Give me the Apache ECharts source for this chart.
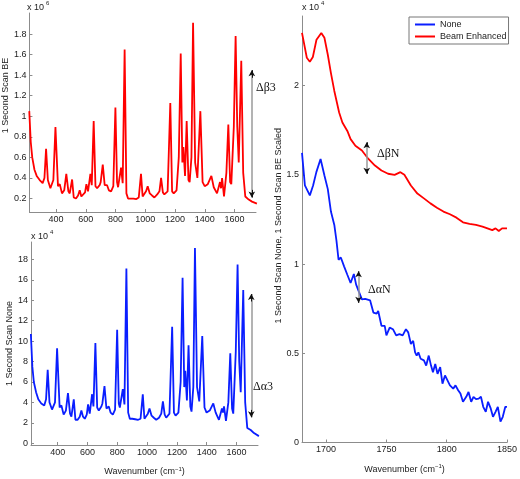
<!DOCTYPE html>
<html><head><meta charset="utf-8">
<script src="https://cdn.jsdelivr.net/npm/echarts@6/dist/echarts.min.js"></script>
<style>html,body{margin:0;padding:0;background:#fff}#c{width:520px;height:479px}</style>
</head><body><div id="c"></div>
<script>
// ---- Data ----
const wnSpectrum = [220,230,240,255,270,290,310,322,333,345,362,382,396,413,425,440,455,469,483,492,508,519,534,548,559,570,582,595,604,615,631,640,653,665,676,693,700,714,727,743,755,770,785,799,810,817,837,848,861,873,884,900,920,940,956,971,982,995,1005,1016,1030,1045,1061,1080,1095,1106,1118,1128,1150,1168,1180,1191,1210,1225,1238,1249,1256,1267,1278,1290,1298,1310,1321,1335,1350,1370,1385,1399,1420,1444,1460,1482,1502,1509,1516,1529,1545,1558,1570,1578,1595,1607,1618,1628,1645,1658,1672,1684,1695,1717,1730,1750];
const noneSpectrum = [10.7,7.5,6.0,5.0,4.3,3.9,3.7,4.3,7.2,4.0,3.3,4.0,9.3,3.5,3.7,2.8,3.2,4.9,2.9,2.6,4.3,2.3,2.3,2.6,3.2,2.6,2.4,2.8,3.8,2.9,4.8,3.6,9.8,3.5,3.2,3.6,3.9,5.6,3.4,3.6,3.0,2.8,3.3,11.1,3.9,3.5,5.3,3.8,17.1,3.0,2.4,2.4,2.35,2.3,2.4,4.8,2.4,2.5,2.9,3.4,2.7,2.5,2.3,2.5,2.9,4.1,2.8,2.5,2.9,11.4,3.0,2.7,3.0,6.0,16.2,5.5,7.1,4.2,9.6,3.6,3.1,5.5,19.1,5.5,4.1,10.5,3.5,3.0,3.2,3.9,3.0,2.3,3.4,3.0,3.6,2.2,4.0,8.8,3.4,2.9,9.0,17.5,8.0,5.0,15.0,4.0,1.5,1.6,1.3,1.0,0.9,0.7];
const beSpectrum = [1.05,0.75,0.6,0.48,0.42,0.38,0.35,0.4,0.685,0.38,0.3,0.38,0.895,0.32,0.34,0.25,0.28,0.44,0.27,0.25,0.385,0.21,0.2,0.23,0.28,0.22,0.21,0.26,0.34,0.27,0.44,0.33,0.955,0.32,0.3,0.33,0.36,0.53,0.33,0.33,0.28,0.27,0.32,1.085,0.36,0.31,0.5,0.35,1.65,0.25,0.2,0.2,0.2,0.195,0.21,0.44,0.22,0.23,0.27,0.32,0.25,0.23,0.21,0.24,0.27,0.4,0.26,0.24,0.27,1.13,0.27,0.25,0.28,0.6,1.61,0.55,0.7,0.42,0.955,0.38,0.36,0.6,1.91,0.55,0.4,1.05,0.36,0.32,0.34,0.42,0.31,0.25,0.36,0.3,0.4,0.22,0.45,0.92,0.36,0.34,0.9,1.78,0.9,0.55,1.54,0.45,0.22,0.21,0.19,0.17,0.16,0.15];

const wnZoomNone = [1680,1682.4,1686.5,1689.2,1691.9,1695.4,1698.6,1701.4,1704,1706.8,1708.6,1710.3,1712.2,1714.9,1717.6,1720.3,1723,1724.9,1727,1729.7,1732.4,1736.5,1739.2,1741.9,1743.2,1745.9,1748.6,1750,1752.7,1755.4,1758.1,1760.8,1763.5,1766.2,1768.1,1770.3,1772.2,1773.8,1775.1,1776.5,1778.4,1781.1,1783,1785.1,1787,1788.6,1790.5,1792.4,1794.6,1796.5,1798.6,1800,1802.7,1805.4,1807.3,1809.5,1811.4,1813.5,1816.2,1818.1,1820.3,1822.2,1824.3,1826.5,1828.4,1830.3,1832.4,1834.3,1836.5,1838.4,1840.5,1842.4,1844.6,1846.5,1848.6,1850];
const noneZoom = [1.623,1.441,1.385,1.44,1.515,1.589,1.496,1.42,1.294,1.219,1.13,1.024,1.037,0.987,0.94,0.894,0.944,0.885,0.848,0.802,0.805,0.796,0.728,0.722,0.737,0.654,0.654,0.6,0.644,0.635,0.6,0.607,0.6,0.635,0.617,0.552,0.57,0.505,0.487,0.505,0.469,0.46,0.431,0.487,0.431,0.394,0.44,0.385,0.422,0.33,0.376,0.367,0.32,0.302,0.32,0.293,0.274,0.228,0.256,0.283,0.228,0.256,0.243,0.246,0.256,0.2,0.172,0.228,0.191,0.144,0.172,0.2,0.117,0.144,0.2,0.2];
const wnZoomBE = [1680,1684,1686.5,1689,1692,1696,1698.6,1701.4,1704,1706.8,1710.8,1713.5,1717.6,1720.3,1724.3,1729.7,1735.1,1740.5,1745.9,1751.4,1756.8,1761.6,1764.9,1770.3,1775.7,1781.1,1786.5,1791.9,1797.3,1802.7,1808.1,1813.5,1818.9,1824.3,1829.7,1833.8,1837.8,1840.5,1843.2,1845.9,1850];
const beZoom = [2.295,2.156,2.134,2.16,2.257,2.295,2.268,2.173,2.07,1.97,1.849,1.793,1.746,1.70,1.663,1.636,1.589,1.552,1.524,1.506,1.5,1.515,1.50,1.44,1.395,1.368,1.34,1.316,1.294,1.279,1.26,1.234,1.225,1.219,1.21,1.20,1.19,1.20,1.185,1.20,1.20];

// tick labels
const xTicksSpectrum = [400,600,800,1000,1200,1400,1600];
const yTicksBE = [0.2,0.4,0.6,0.8,1,1.2,1.4,1.6,1.8];
const yTicksNone = [0,2,4,6,8,10,12,14,16,18];
const xTicksZoom = [1700,1750,1800,1850];
const yTicksZoom = [0,0.5,1,1.5,2];

// annotation arrows [x, yTop, yBottom]
const arrowBE3 = [1716, 1.449, 0.21];
const arrowNone3 = [1699, 14.6, 2.54];
const arrowBN = [1733.7, 1.682, 1.506];
const arrowAN = [1726.9, 0.959, 0.783];

// ---- Chart ----
const FONT = '"Liberation Sans", Arial, Helvetica, sans-serif';
const SERIF = '"Liberation Serif", "Times New Roman", serif';
const AX = '#8c8c8c', TXT = '#222';
const pairs = (xs, ys) => xs.map((x, i) => [x, ys[i]]);

function mkAxis(o) {
  return Object.assign({
    type: 'value', scale: false,
    axisLine: {show: true, onZero: false, lineStyle: {color: AX, width: 1}},
    axisTick: {show: true, inside: true, length: 3, lineStyle: {color: AX}, customValues: o.ticks},
    axisLabel: {color: TXT, fontSize: 9, fontFamily: FONT, margin: 3, customValues: o.ticks,
                formatter: v => String(+v.toFixed(3))},
    splitLine: {show: false},
    nameTextStyle: {color: TXT, fontSize: 9, fontFamily: FONT, padding: o.namePad || 0}
  }, o.extra);
}
const xName = {
  name: '{a|Wavenumber (cm}{s|\u22121}{a|)}',
  nameLocation: 'middle', nameGap: 21,
  nameTextStyle: {rich: {
    a: {fontSize: 9, fontFamily: FONT, color: TXT, lineHeight: 12},
    s: {fontSize: 6, fontFamily: FONT, color: TXT, verticalAlign: 'top', lineHeight: 12}
  }}
};

function arrowLines(a) {
  const [x, y1, y2] = a;
  const d = (y1 - y2) * 0.06;
  return [
    [{coord: [x, y1], symbol: 'none', lineStyle: {color: '#9a9a9a', width: 1.5, type: 'solid'}}, {coord: [x, y2], symbol: 'none'}],
    [{coord: [x, y1 - d], symbol: 'none', lineStyle: {color: '#111', width: 1, type: 'solid'}}, {coord: [x, y1], symbol: 'arrow', symbolSize: [5, 6]}],
    [{coord: [x, y2 + d], symbol: 'none', lineStyle: {color: '#111', width: 1, type: 'solid'}}, {coord: [x, y2], symbol: 'arrow', symbolSize: [5, 6]}]
  ];
}
function markArrow(a) {
  return {silent: true, animation: false, label: {show: false}, emphasis: {disabled: true}, symbolSize: [5, 6], data: arrowLines(a)};
}

const option = {
  animation: false,
  backgroundColor: '#fff',
  grid: [
    {left: 27, top: 13, width: 229, height: 199},
    {left: 31, top: 242, width: 227, height: 203},
    {left: 302, top: 16, width: 210, height: 430}
  ],
  xAxis: [
    mkAxis({ticks: xTicksSpectrum, extra: {gridIndex: 0, min: 221, max: 1744}}),
    mkAxis({ticks: xTicksSpectrum, extra: Object.assign({gridIndex: 1, min: 221, max: 1744}, xName)}),
    mkAxis({ticks: xTicksZoom, extra: Object.assign({gridIndex: 2, min: 1680, max: 1850}, xName)})
  ],
  yAxis: [
    mkAxis({ticks: yTicksBE, namePad: [0, 0, 0, 34], extra: {gridIndex: 0, min: 0.069, max: 2.005, name: '1 Second Scan BE', nameLocation: 'middle', nameGap: 16}}),
    mkAxis({ticks: yTicksNone, extra: {gridIndex: 1, min: -0.17, max: 19.7, name: '1 Second Scan None', nameLocation: 'middle', nameGap: 15}}),
    mkAxis({ticks: yTicksZoom, namePad: [0, 0, 0, 7], extra: {gridIndex: 2, min: 0, max: 2.39, name: '1 Second Scan None, 1 Second Scan BE Scaled', nameLocation: 'middle', nameGap: 15}})
  ],
  legend: {
    data: ['None', 'Beam Enhanced'], orient: 'vertical', left: 409, top: 17,
    padding: [3, 2, 3, 5], itemGap: 3, itemWidth: 20, itemHeight: 8,
    itemStyle: {opacity: 0, borderWidth: 0},
    textStyle: {fontSize: 9, fontFamily: FONT, color: TXT},
    borderColor: '#777', borderWidth: 1, backgroundColor: '#fff', selectedMode: false
  },
  series: [
    {type: 'line', name: 'BE spectrum', xAxisIndex: 0, yAxisIndex: 0, data: pairs(wnSpectrum, beSpectrum),
     symbol: 'none', lineStyle: {color: '#ff0000', width: 1.8}, itemStyle: {color: '#ff0000'}, markLine: markArrow(arrowBE3)},
    {type: 'line', name: 'None spectrum', xAxisIndex: 1, yAxisIndex: 1, data: pairs(wnSpectrum, noneSpectrum),
     symbol: 'none', lineStyle: {color: '#0a1eff', width: 1.8}, itemStyle: {color: '#0a1eff'}, markLine: markArrow(arrowNone3)},
    {type: 'line', name: 'None', xAxisIndex: 2, yAxisIndex: 2, data: pairs(wnZoomNone, noneZoom),
     symbol: 'none', lineStyle: {color: '#0a1eff', width: 1.8}, itemStyle: {color: '#0a1eff'}, markLine: markArrow(arrowAN)},
    {type: 'line', name: 'Beam Enhanced', xAxisIndex: 2, yAxisIndex: 2, data: pairs(wnZoomBE, beZoom),
     symbol: 'none', lineStyle: {color: '#ff0000', width: 1.8}, itemStyle: {color: '#ff0000'}, markLine: markArrow(arrowBN)}
  ],
  graphic: [
    {type: 'text', left: 27, top: 3, style: {text: 'x 10', font: '9px ' + FONT, fill: TXT}},
    {type: 'text', left: 46, top: 0, style: {text: '6', font: '6px ' + FONT, fill: TXT}},
    {type: 'text', left: 31, top: 232, style: {text: 'x 10', font: '9px ' + FONT, fill: TXT}},
    {type: 'text', left: 50, top: 229, style: {text: '4', font: '6px ' + FONT, fill: TXT}},
    {type: 'text', left: 302, top: 3, style: {text: 'x 10', font: '9px ' + FONT, fill: TXT}},
    {type: 'text', left: 321, top: 0, style: {text: '4', font: '6px ' + FONT, fill: TXT}},
    {type: 'text', left: 256, top: 82, style: {text: '\u0394\u03b23', font: '12px ' + SERIF, fill: '#111'}},
    {type: 'text', left: 253, top: 381, style: {text: '\u0394\u03b13', font: '12px ' + SERIF, fill: '#111'}},
    {type: 'text', left: 377, top: 148, style: {text: '\u0394\u03b2N', font: '12px ' + SERIF, fill: '#111'}},
    {type: 'text', left: 368, top: 284, style: {text: '\u0394\u03b1N', font: '12px ' + SERIF, fill: '#111'}}
  ]
};
const chart = echarts.init(document.getElementById('c'), null, {renderer: 'canvas', width: 520, height: 479});
chart.setOption(option);
</script></body></html>
